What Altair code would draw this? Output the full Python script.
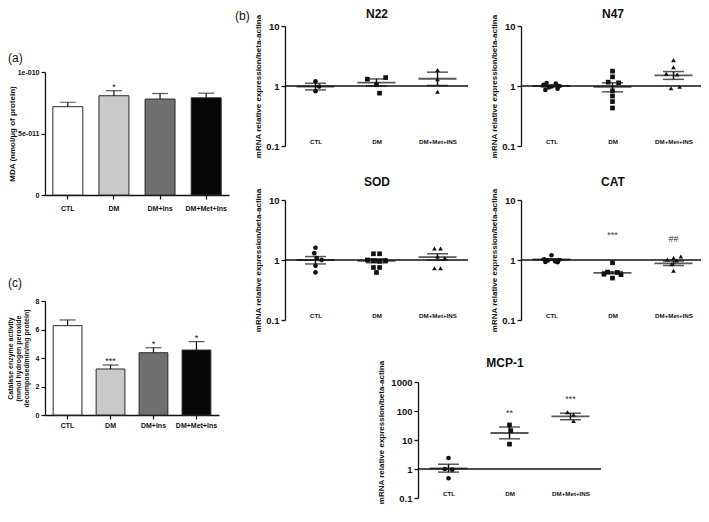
import json
import altair as alt
import pandas as pd

W, H = 693, 500
FONT = "Liberation Sans"
INK = "#111111"

# ---------------- (a) MDA bars ----------------
bar_groups = ["CTL", "DM", "DM+Ins", "DM+Met+Ins"]
bar_colors = ["#ffffff", "#c9c9c9", "#707070", "#060606"]
mda_mean = [7.18e-11, 8.07e-11, 7.80e-11, 7.90e-11]
mda_sem = [0.36e-11, 0.41e-11, 0.45e-11, 0.38e-11]
mda_sig = ["", "*", "", ""]
mda_ticks = [0, 5e-11, 1e-10]
mda_tick_text = ["0", "5e-011", "1e-010"]

# ---------------- (c) catalase activity bars ----------------
cat_mean = [6.27, 3.23, 4.37, 4.56]
cat_sem = [0.40, 0.28, 0.35, 0.59]
cat_sig = ["", "***", "*", "*"]
cat_ticks = [0, 2, 4, 6, 8]
cat_tick_text = ["0", "2", "4", "6", "8"]

# ---------------- (b) mRNA expression ----------------
gene_groups = ["CTL", "DM", "DM+Met+INS"]
gene_shapes = ["circle", "square", "triangle-up"]
log_ticks_small = [0.1, 1, 10]
log_ticks_big = [0.1, 1, 10, 100, 1000]

n22_points = [[1.20, 0.98, 0.82], [1.30, 1.38, 1.05, 0.76], [1.85, 1.30, 0.80]]
n22_jitter = [[0.0, 0.06, 0.0], [-0.15, 0.15, 0.0, 0.05], [0.0, 0.0, 0.0]]
n22_mean = [0.98, 1.14, 1.32]
n22_lo = [0.86, 1.00, 1.02]
n22_hi = [1.11, 1.31, 1.70]

n47_points = [[1.12, 1.10, 1.05, 1.00, 0.98, 0.95, 0.90, 0.86],
              [1.77, 1.42, 1.16, 1.13, 0.83, 0.68, 0.55, 0.43],
              [2.70, 2.05, 1.60, 1.55, 0.97, 0.92]]
n47_jitter = [[-0.08, 0.07, -0.13, 0.12, 0.0, -0.04, 0.10, -0.10],
              [0.0, 0.0, -0.07, 0.10, 0.0, 0.0, 0.0, 0.0],
              [0.0, 0.0, -0.12, 0.06, 0.10, -0.04]]
n47_mean = [1.00, 0.97, 1.50]
n47_lo = [0.96, 0.80, 1.29]
n47_hi = [1.04, 1.13, 1.74]

sod_points = [[1.60, 1.30, 1.08, 1.00, 0.80, 0.62],
              [1.27, 1.27, 1.00, 0.97, 0.95, 0.97, 0.75, 0.75, 0.62],
              [1.55, 1.55, 1.14, 1.08, 0.73, 0.73]]
sod_jitter = [[0.0, -0.02, 0.02, 0.10, 0.0, 0.0],
              [-0.05, 0.05, -0.15, -0.05, 0.05, 0.15, -0.05, 0.05, 0.0],
              [-0.05, 0.05, 0.0, 0.12, -0.05, 0.05]]
sod_mean = [1.00, 0.97, 1.12]
sod_lo = [0.86, 0.90, 0.99]
sod_hi = [1.14, 1.05, 1.27]

cat_points = [[1.20, 1.03, 1.00, 0.98, 0.95, 0.93, 0.92],
              [0.90, 0.63, 0.62, 0.58, 0.57, 0.50],
              [1.14, 1.08, 1.02, 0.98, 0.85, 0.66]]
cat_jitter = [[0.0, -0.12, 0.12, -0.06, 0.06, -0.10, 0.10],
              [0.0, -0.08, 0.08, -0.14, 0.14, 0.0],
              [0.12, 0.0, -0.10, 0.05, -0.03, 0.0]]
catg_mean = [1.02, 0.61, 0.88]
catg_lo = [0.99, 0.59, 0.81]
catg_hi = [1.05, 0.64, 0.96]
catg_notes = ["", "***", "##"]
catg_note_y = [None, 2.6, 2.2]

mcp_points = [[2.40, 1.00, 0.95, 0.48], [33.0, 21.0, 7.2], [90.0, 74.0, 45.0]]
mcp_jitter = [[0.0, -0.06, 0.06, 0.0], [0.0, 0.02, 0.0], [-0.05, 0.05, 0.05]]
mcp_mean = [1.05, 17.4, 65.0]
mcp_lo = [0.78, 11.0, 50.0]
mcp_hi = [1.46, 28.0, 84.0]
mcp_notes = ["", "**", "***"]
mcp_note_y = [None, 82.0, 263.0]

no_notes = ["", "", ""]
no_note_y = [None, None, None]

Y_TITLE_B = "mRNA relative expression/beta-actina"
PW = 183

layers = []


def label_text(txt, x, y, size=11, weight="normal", align="left"):
    return alt.Chart(pd.DataFrame({"t": [txt]})).mark_text(
        font=FONT, fontSize=size, fontWeight=weight, color=INK, align=align, baseline="middle"
    ).encode(x=alt.value(x), y=alt.value(y), text="t:N")


def value_expr(values, texts):
    parts = [f"datum.value == {v!r} ? '{t}'" for v, t in zip(values, texts)]
    return " : ".join(parts) + " : ''"


def bar_panel(means, sems, sigs, ticks, tick_text, dom, x0, x1, pin, pout, top, bot,
              ytitle, title_x, title_size, lab_pad):
    df = pd.DataFrame({"g": bar_groups, "m": means,
                       "t": [a + b for a, b in zip(means, sems)], "s": sigs})
    xs = alt.Scale(type="band", domain=bar_groups, range=[x0, x1],
                   paddingInner=pin, paddingOuter=pout)
    ys = alt.Scale(type="linear", domain=dom, range=[bot, top], nice=False, zero=False)
    xaxis = alt.Axis(orient="bottom", offset=bot - H, title=None, grid=False,
                     domainColor=INK, domainWidth=1.3, tickColor=INK, tickWidth=1.2,
                     tickSize=4, labelFont=FONT, labelFontWeight="bold", labelFontSize=7,
                     labelColor=INK, labelPadding=lab_pad, labelAngle=0)
    yaxis = alt.Axis(orient="left", offset=-x0, values=ticks,
                     labelExpr=value_expr(ticks, tick_text), grid=False,
                     domainColor=INK, domainWidth=1.3, tickColor=INK, tickWidth=1.2,
                     tickSize=4, labelFont=FONT, labelFontWeight="bold", labelFontSize=7,
                     labelColor=INK, labelPadding=2, title=ytitle, titleX=title_x,
                     titleY=(top + bot) / 2, titleAngle=-90, titleBaseline="middle",
                     titleAlign="center", titleFont=FONT, titleFontWeight="bold",
                     titleFontSize=title_size, titleLineHeight=title_size + 1.2,
                     titleColor=INK)
    xenc = alt.X("g:N", scale=xs, axis=None, sort=bar_groups)
    bars = alt.Chart(df).mark_bar(stroke="#2a2a2a", strokeWidth=1).encode(
        x=alt.X("g:N", scale=xs, axis=xaxis, sort=bar_groups),
        y=alt.Y("m:Q", scale=ys, axis=yaxis),
        fill=alt.Fill("g:N", scale=alt.Scale(domain=bar_groups, range=bar_colors), legend=None),
    )
    err = alt.Chart(df).mark_rule(color=INK, strokeWidth=1.2).encode(
        x=xenc, y=alt.Y("m:Q", scale=ys, axis=None), y2="t:Q")
    cap = alt.Chart(df).mark_tick(orient="horizontal", size=16, thickness=1.2, color=INK).encode(
        x=xenc, y=alt.Y("t:Q", scale=ys, axis=None))
    sig = alt.Chart(df).transform_filter("datum.s != ''").mark_text(
        font=FONT, fontSize=9, color=INK, baseline="alphabetic", dy=-1).encode(
        x=xenc, y=alt.Y("t:Q", scale=ys, axis=None), text="s:N")
    return [bars, err, cap, sig]


def gene_panel(name, pts, jit, mean, lo, hi, notes, note_y, dom, ticks, x0, top, bot,
               title_x, title_y, name_x, name_y):
    xs = alt.Scale(type="linear", domain=[-0.5, 2.5], range=[x0, x0 + PW], nice=False, zero=False)
    ys = alt.Scale(type="log", domain=dom, range=[bot, top], nice=False)
    rows = []
    for i, (vals, js) in enumerate(zip(pts, jit)):
        for v, j in zip(vals, js):
            rows.append({"grp": gene_groups[i], "pos": i + j, "val": v})
    pdf = pd.DataFrame(rows)
    sdf = pd.DataFrame({"grp": gene_groups, "pos": [0, 1, 2], "mean": mean, "lo": lo,
                        "hi": hi, "note": notes, "ny": note_y})
    lab = json.dumps(gene_groups) + "[datum.value]"
    xaxis = alt.Axis(orient="bottom", offset=(bot - 5) - H, values=[0, 1, 2], labelExpr=lab,
                     domain=False, ticks=False, tickSize=0, grid=False, title=None,
                     labelFont=FONT, labelFontWeight="bold", labelFontSize=6.2, labelColor=INK,
                     labelPadding=0, labelBaseline="middle", labelAngle=0)
    yaxis = alt.Axis(orient="left", offset=-x0, values=ticks, format="~g", grid=False,
                     domainColor=INK, domainWidth=1.3, tickColor=INK, tickWidth=1.3,
                     tickSize=4, labelFont=FONT, labelFontWeight="bold", labelFontSize=9.5,
                     labelColor=INK, labelPadding=2, title=Y_TITLE_B, titleX=title_x,
                     titleY=title_y, titleAngle=-90, titleBaseline="middle",
                     titleAlign="center", titleFont=FONT, titleFontWeight="bold",
                     titleFontSize=8, titleColor=INK)
    xn = alt.X("pos:Q", scale=xs, axis=None)
    out = []
    out.append(alt.Chart(pd.DataFrame({"k": [0]})).mark_rule(color=INK, strokeWidth=1.5).encode(
        x=alt.XDatum(-0.5, type="quantitative", scale=xs, axis=None),
        x2=alt.X2Datum(2.5),
        y=alt.YDatum(1, type="quantitative", scale=ys, axis=None)))
    out.append(alt.Chart(sdf).mark_rule(color=INK, strokeWidth=1.5).encode(
        x=xn, y=alt.Y("lo:Q", scale=ys, axis=None), y2="hi:Q"))
    for f in ["lo", "hi"]:
        out.append(alt.Chart(sdf).mark_tick(orient="horizontal", size=21, thickness=1.5,
                                            color=INK).encode(
            x=xn, y=alt.Y(f + ":Q", scale=ys, axis=None)))
    out.append(alt.Chart(sdf).mark_tick(orient="horizontal", size=38, thickness=1.8,
                                        color=INK).encode(
        x=xn, y=alt.Y("mean:Q", scale=ys, axis=None)))
    out.append(alt.Chart(pdf).mark_point(filled=True, size=22, color=INK, opacity=1).encode(
        x=alt.X("pos:Q", scale=xs, axis=xaxis),
        y=alt.Y("val:Q", scale=ys, axis=yaxis),
        shape=alt.Shape("grp:N", scale=alt.Scale(domain=gene_groups, range=gene_shapes),
                        legend=None)))
    if any(notes):
        out.append(alt.Chart(sdf).transform_filter("datum.note != ''").mark_text(
            font=FONT, fontSize=9, color="#333333", baseline="middle").encode(
            x=xn, y=alt.Y("ny:Q", scale=ys, axis=None), text="note:N"))
    out.append(label_text(name, name_x, name_y, size=12, weight="bold", align="center"))
    return out


# (a)
layers += bar_panel(mda_mean, mda_sem, mda_sig, mda_ticks, mda_tick_text, [0, 1e-10],
                    37, 221, 0.35, 0.17, 64, 187, "MDA (nmol/µg of protein)", -33, 8, 5)
layers.append(label_text("(a)", 0, 50, size=12))

# (c)
layers += bar_panel(cat_mean, cat_sem, cat_sig, cat_ticks, cat_tick_text, [0, 8],
                    37, 211, 0.33, 0.19, 293, 407,
                    ["Catalase enzyme activity", "(mmol hydrogen peroxide",
                     "decomposed/min/mg protein)"], -35, 7, 2)
layers.append(label_text("(c)", 0, 275, size=12))

# (b)
layers.append(label_text("(b)", 227, 8, size=12))
layers += gene_panel("N22", n22_points, n22_jitter, n22_mean, n22_lo, n22_hi, no_notes, no_note_y,
                     [0.1, 10], log_ticks_small, 277, 18, 138, -27, 78, 369, 6)
layers += gene_panel("N47", n47_points, n47_jitter, n47_mean, n47_lo, n47_hi, no_notes, no_note_y,
                     [0.1, 10], log_ticks_small, 513, 18, 138, -27, 78, 605, 6)
layers += gene_panel("SOD", sod_points, sod_jitter, sod_mean, sod_lo, sod_hi, no_notes, no_note_y,
                     [0.1, 10], log_ticks_small, 277, 192, 312, -27, 252, 369, 174)
layers += gene_panel("CAT", cat_points, cat_jitter, catg_mean, catg_lo, catg_hi, catg_notes,
                     catg_note_y, [0.1, 10], log_ticks_small, 513, 192, 312, -27, 252, 605, 174)
layers += gene_panel("MCP-1", mcp_points, mcp_jitter, mcp_mean, mcp_lo, mcp_hi, mcp_notes,
                     mcp_note_y, [0.1, 1000], log_ticks_big, 410, 374, 490, -37, 424, 497, 355)

chart = alt.layer(*layers).resolve_scale(x="independent", y="independent").properties(
    width=W, height=H, padding=0, autosize=alt.AutoSizeParams(type="none"),
    background="white").configure_view(stroke=None)

chart.save("out.html", embed_options={"renderer": "svg", "actions": False})
